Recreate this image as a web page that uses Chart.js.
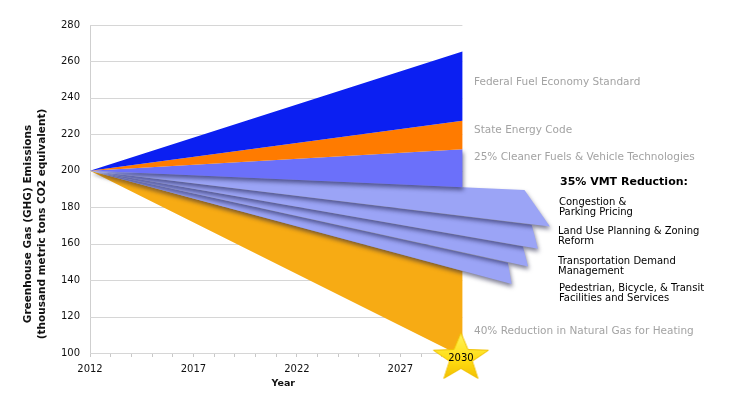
<!DOCTYPE html>
<html>
<head>
<meta charset="utf-8">
<script src="https://cdn.jsdelivr.net/npm/chart.js@4"></script>
<style>
    html, body { margin: 0; padding: 0; background: #fff; }
    #chart { display: block; }
</style>
</head>
<body>
<canvas id="chart" width="740" height="398"></canvas>
<script>
// Du lieu doc tu hinh
const tickYears = [2012, 2017, 2022, 2027]
const startYear = 2012
const endYear = 2030
const startValue = 200

const wedgeNames = ['Federal Fuel Economy Standard', 'State Energy Code', '25% Cleaner Fuels & Vehicle Technologies']
const wedgeTops = [265.4, 227.4, 211.8]
const wedgeBottoms = [227.4, 211.8, 191.0]

const vmtTitle = '35% VMT Reduction:'
const vmtNames = [
    ['Congestion &', 'Parking Pricing'],
    ['Land Use Planning & Zoning', 'Reform'],
    ['Transportation Demand', 'Management'],
    ['Pedestrian, Bicycle, & Transit', 'Facilities and Services']
]
const vmtTopYears = [2033.0, 2033.35, 2032.93, 2032.2]
const vmtTopValues = [189.5, 170.35, 158.45, 149.5]
const vmtBottomYears = [2034.23, 2033.65, 2033.17, 2032.38]
const vmtBottomValues = [169.4, 157.2, 147.5, 137.8]

const gasName = '40% Reduction in Natural Gas for Heating'
const gasTop = 145.0
const gasBottom = 98.0

// Mau sac
const wedgeColors = ['#0b1ff2', '#ff7b00', '#6b70fa']
const vmtColor = '#9ba4f6'
const gasColor = '#f7ab14'

const FONT = "'DejaVu Sans', Verdana, sans-serif"

function wedgeShape(top, bottom) {
    return [
        {x: startYear, y: startValue},
        {x: endYear, y: top},
        {x: endYear, y: bottom},
        {x: startYear, y: startValue}
    ]
}

function stripeShape(i) {
    return [
        {x: startYear, y: startValue},
        {x: vmtTopYears[i], y: vmtTopValues[i]},
        {x: vmtBottomYears[i], y: vmtBottomValues[i]},
        {x: startYear, y: startValue}
    ]
}

function areaDataset(label, data, color, shadow) {
    return {
        label: label,
        data: data,
        backgroundColor: color,
        borderWidth: 0,
        pointRadius: 0,
        tension: 0,
        fill: 'shape',
        shadow: shadow
    }
}

// Ngoi sao 2030
function makeStar() {
    const c = document.createElement('canvas')
    c.width = 70
    c.height = 70
    const g = c.getContext('2d')
    const cx = 33.5, cy = 40, R = 29, r = 12, sy = 0.87
    g.beginPath()
    for (let k = 0; k < 10; k++) {
        const rad = k % 2 === 0 ? R : r
        const a = -Math.PI / 2 + k * Math.PI / 5
        const px = cx + rad * Math.cos(a)
        const py = cy + rad * Math.sin(a) * sy
        if (k === 0) g.moveTo(px, py)
        else g.lineTo(px, py)
    }
    g.closePath()
    const grad = g.createLinearGradient(0, cy - R * sy, 0, cy + R * sy)
    grad.addColorStop(0, '#fff55c')
    grad.addColorStop(0.55, '#ffdc10')
    grad.addColorStop(1, '#eeb800')
    g.fillStyle = grad
    g.fill()
    g.strokeStyle = '#f0c000'
    g.lineWidth = 1
    g.stroke()
    return c
}

function buildDatasets() {
    const sets = []
    sets.push({
        label: 'star',
        data: [{x: endYear, y: 100}],
        showLine: false,
        pointStyle: makeStar(),
        pointRadius: 10,
        clip: false
    })
    for (let i = 0; i < wedgeNames.length; i++)
        sets.push(areaDataset(wedgeNames[i], wedgeShape(wedgeTops[i], wedgeBottoms[i]), wedgeColors[i], i === 2))
    for (let i = 0; i < vmtNames.length; i++)
        sets.push(areaDataset(vmtNames[i].join(' '), stripeShape(i), vmtColor, true))
    sets.push(areaDataset(gasName, wedgeShape(gasTop, gasBottom), gasColor, false))
    return sets
}

// Luoi ngang chi ve den 2030
const gridPlugin = {
    id: 'gridTo2030',
    beforeDatasetsDraw(chart) {
        const ctx = chart.ctx
        const xs = chart.scales.x
        const ys = chart.scales.y
        const right = xs.getPixelForValue(endYear)
        ctx.save()
        ctx.strokeStyle = '#d6d6d6'
        ctx.lineWidth = 1
        ys.ticks.forEach(t => {
            const y = Math.round(ys.getPixelForValue(t.value)) + 0.5
            ctx.beginPath()
            ctx.moveTo(chart.chartArea.left, y)
            ctx.lineTo(right, y)
            ctx.stroke()
        })
        ctx.restore()
    }
}

// Bong do cho cac dai VMT
const shadowPlugin = {
    id: 'stripeShadow',
    afterDatasetDraw(chart, args) {
        const ctx = chart.ctx
        const next = chart.data.datasets[args.index - 1]
        if (next && next.shadow) {
            ctx.shadowColor = 'rgba(20, 20, 60, 0.55)'
            ctx.shadowBlur = 4
            ctx.shadowOffsetX = 1
            ctx.shadowOffsetY = 3
        } else {
            ctx.shadowColor = 'rgba(0, 0, 0, 0)'
            ctx.shadowBlur = 0
            ctx.shadowOffsetX = 0
            ctx.shadowOffsetY = 0
        }
    }
}

function drawText(ctx, text, x, y, font, color, align) {
    ctx.font = font
    ctx.fillStyle = color
    ctx.textAlign = align || 'left'
    ctx.textBaseline = 'middle'
    ctx.fillText(text, x, y)
}

// Chu thich ben phai va tieu de truc
const labelPlugin = {
    id: 'sideLabels',
    afterDraw(chart) {
        const ctx = chart.ctx
        const xs = chart.scales.x
        ctx.save()

        ctx.translate(28, 224)
        ctx.rotate(-Math.PI / 2)
        drawText(ctx, 'Greenhouse Gas (GHG) Emissions', 0, 0, `bold 10.5px ${FONT}`, '#111', 'center')
        drawText(ctx, '(thousand metric tons CO2 equivalent)', 0, 14, `bold 10.5px ${FONT}`, '#111', 'center')
        ctx.setTransform(1, 0, 0, 1, 0, 0)

        drawText(ctx, 'Year', (xs.getPixelForValue(startYear) + xs.getPixelForValue(endYear)) / 2 + 7, 384, `bold 9.5px ${FONT}`, '#111', 'center')

        const gray = '#a3a3a3'
        const grayFont = `10.5px ${FONT}`
        drawText(ctx, wedgeNames[0], 474, 82, grayFont, gray)
        drawText(ctx, wedgeNames[1], 474, 130, grayFont, gray)
        drawText(ctx, wedgeNames[2], 474, 157, grayFont, gray)
        drawText(ctx, gasName, 474, 331, grayFont, gray)

        drawText(ctx, vmtTitle, 560, 182, `bold 11px ${FONT}`, '#000')
        const vmtY = [202, 231, 261, 288]
        const vmtX = [559, 558, 558, 559]
        vmtNames.forEach((lines, i) => {
            lines.forEach((line, j) => {
                drawText(ctx, line, vmtX[i], vmtY[i] + j * 10.5, `10px ${FONT}`, '#000')
            })
        })

        const star = chart.getDatasetMeta(0).data[0]
        drawText(ctx, String(endYear), star.x - 1.5, star.y + 5, `10px ${FONT}`, '#000', 'center')
        ctx.restore()
    }
}

const ctx = document.getElementById('chart').getContext('2d')
const chart = new Chart(ctx, {
    type: 'line',
    data: {datasets: buildDatasets()},
    options: {
        responsive: false,
        animation: false,
        events: [],
        layout: {padding: {top: 25, right: 184.5, bottom: 0, left: 0}},
        plugins: {
            legend: {display: false},
            tooltip: {enabled: false}
        },
        scales: {
            x: {
                type: 'linear',
                min: startYear,
                max: 2034.5,
                afterFit(scale) { scale.height = 45 },
                border: {display: false},
                grid: {
                    display: true,
                    drawOnChartArea: false,
                    drawTicks: true,
                    tickLength: 4,
                    color: c => (c.tick && c.tick.value <= endYear) ? '#c8c8c8' : 'rgba(0,0,0,0)'
                },
                ticks: {
                    stepSize: 1,
                    autoSkip: false,
                    maxRotation: 0,
                    padding: 6,
                    color: '#111',
                    font: {family: FONT, size: 10},
                    callback: v => tickYears.includes(v) ? String(v) : ''
                }
            },
            y: {
                min: 100,
                max: 280,
                afterFit(scale) { scale.width = 90 },
                border: {display: true, color: '#cfcfcf'},
                grid: {display: false, drawTicks: false},
                ticks: {
                    stepSize: 20,
                    padding: 10,
                    color: '#111',
                    font: {family: FONT, size: 10}
                }
            }
        }
    },
    plugins: [gridPlugin, shadowPlugin, labelPlugin]
})
</script>
</body>
</html>
